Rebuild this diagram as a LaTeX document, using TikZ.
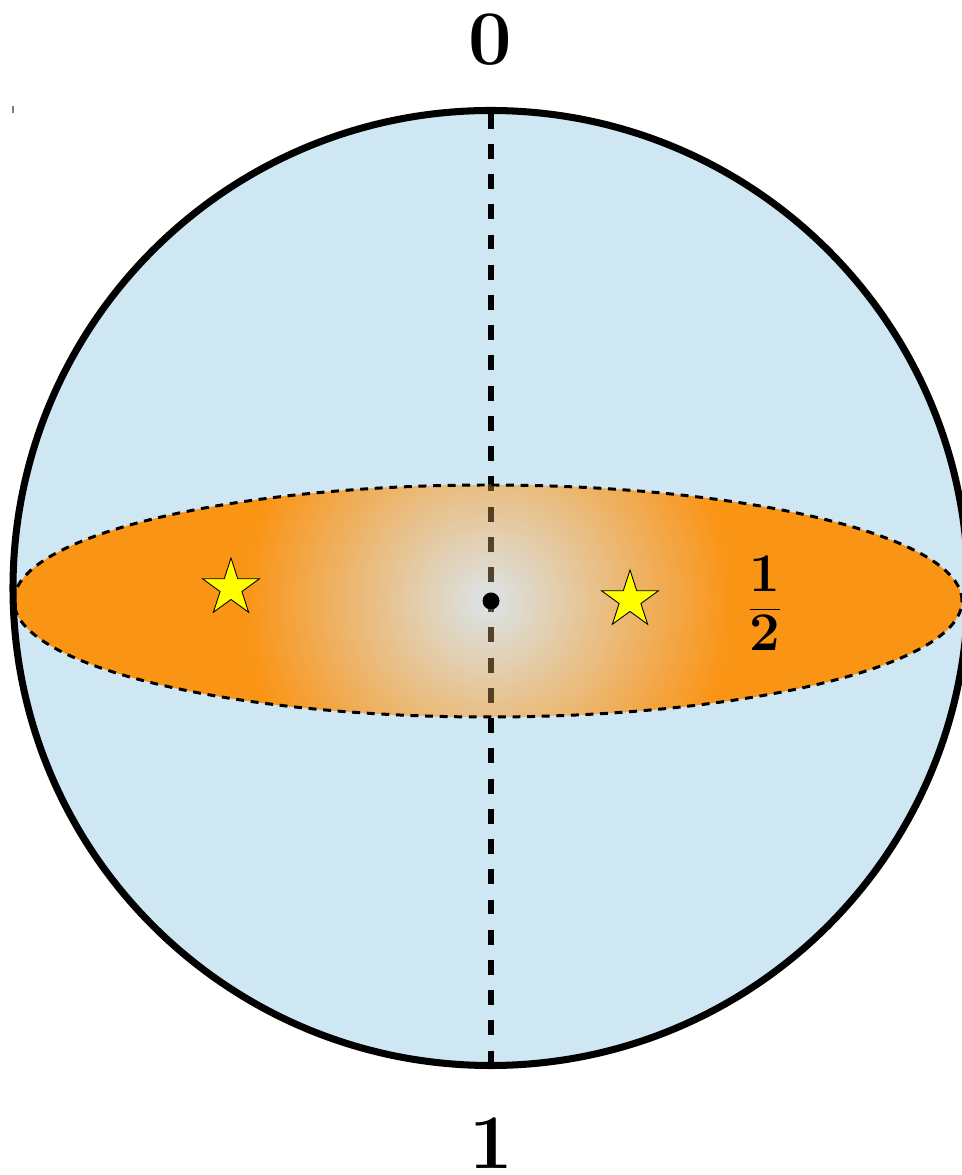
\documentclass[tikz,border=0pt]{standalone}
\usepackage{fontspec}
\usetikzlibrary{shapes.geometric,positioning}
\definecolor{sky}{RGB}{207,230,243}
\definecolor{flame}{RGB}{250,148,20}
\definecolor{haze}{RGB}{218,228,232}
\definecolor{gold}{RGB}{255,255,0}
\tikzset{
  ball/.style={circle,fill=sky,minimum size=19.1cm,inner sep=0pt,outer sep=0pt},
  disc/.style={ellipse,minimum width=18.96cm,minimum height=4.64cm,inner sep=0pt,outer sep=0pt},
  axis/.style={line width=3.7pt,dash pattern=on 8.5pt off 8.7pt,dash phase=15.4pt},
  rim/.style={line width=1.7pt,dash pattern=on 4.5pt off 3.8pt},
  marker/.style={star,star points=5,star point ratio=2.618,draw=black,fill=gold,
    line width=0.5pt,minimum size=1.2cm,inner sep=0pt},
  pole/.style={font=\fontsize{44}{50}\selectfont\bfseries,inner sep=0pt},
  frac/.style={font=\fontsize{31}{36}\selectfont},
}
\begin{document}
\begin{tikzpicture}
  \useasboundingbox (0,0) rectangle (19.22,23.5);
  % sphere
  \node[ball] (sphere) at (9.81,11.74) {};
  \coordinate (top) at (9.82,21.29);
  \coordinate (bottom) at (9.82,2.19);
  \draw[axis] (top) -- (bottom);
  % equator disc
  \node[disc] (disc) at (9.76,11.48) {};
  \begin{scope}
    \clip (disc.center) ellipse [x radius=9.48cm,y radius=2.32cm];
    \fill[flame] (disc.center) ellipse [x radius=9.48cm,y radius=2.32cm];
    \shade[inner color=haze,outer color=flame] (disc.center) circle [radius=4.9cm];
    \draw[axis,draw=black!80!flame,draw opacity=0.8] (top) -- (bottom);
  \end{scope}
  \draw[rim] (disc.center) ellipse [x radius=9.48cm,y radius=2.32cm];
  \node[circle,fill=black,minimum size=0.34cm,inner sep=0pt] (hub) at (9.82,11.48) {};
  \node[marker] (starL) at (4.62,11.74) {};
  \node[marker] (starR) at (12.6,11.5) {};
  \node[frac] (half) at (15.3,11.44) {$\displaystyle\frac{\textbf{1}}{\textbf{2}}$};
  \draw[line width=4pt] (sphere.center) circle [radius=9.55cm];
  \node[pole] (zero) at (9.8,22.7) {0};
  \node[pole] (one) at (9.82,0.64) {1};
  \draw[gray,line width=1.2pt] (0.26,21.38) -- (0.26,21.24);
\end{tikzpicture}
\end{document}
